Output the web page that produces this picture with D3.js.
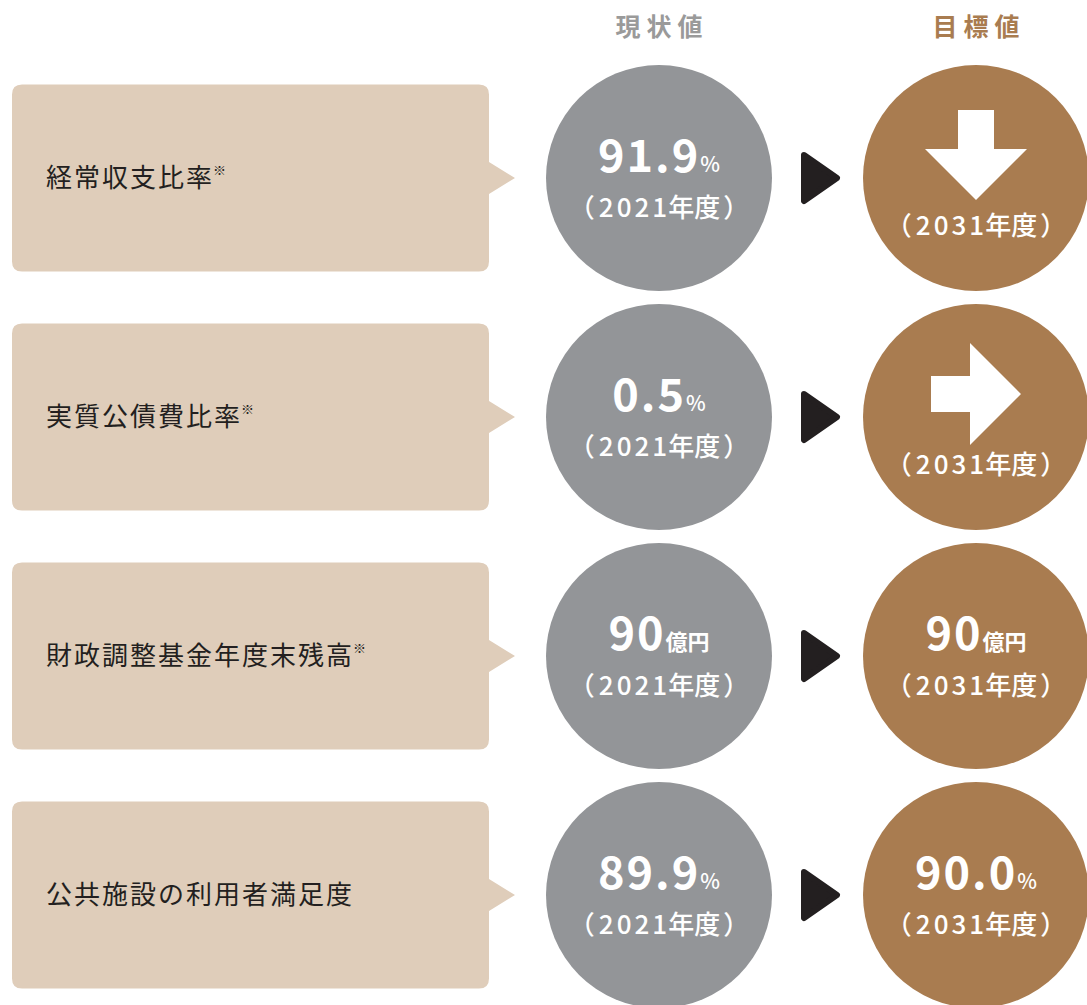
<!DOCTYPE html>
<html>
<head>
<meta charset="utf-8">
<script src="https://cdn.jsdelivr.net/npm/d3@7"></script>
<style>
    body { margin: 0; background: #fff; }
    text { font-family: "Noto Sans CJK JP", "Noto Sans", sans-serif; }
</style>
</head>
<body>
<div id="chart"></div>
<script>
// indicator names (left boxes)
var labels = ["経常収支比率", "実質公債費比率", "財政調整基金年度末残高", "公共施設の利用者満足度"];
var hasNote = [true, true, true, false];

// current values (2021)
var currentValues = ["91.9", "0.5", "90", "89.9"];
var currentUnits = ["%", "%", "億円", "%"];
var currentYear = "（2021年度）";

// target values (2031) - arrows where no number is given
var targetValues = [null, null, "90", "90.0"];
var targetUnits = ["", "", "億円", "%"];
var targetArrows = ["down", "right", null, null];
var targetYear = "（2031年度）";

var headers = ["現状値", "目標値"];

var colors = {
    box: "#dfcdba",
    grey: "#939598",
    brown: "#a97c50",
    dark: "#231f20",
    header: "#9a9a9a"
};

var width = 1087, height = 1005;

var svg = d3.select("#chart").append("svg")
    .attr("width", width)
    .attr("height", height);

// rows and columns
var y = d3.scalePoint()
    .domain(d3.range(labels.length))
    .range([178, 895]);

var x = d3.scaleOrdinal()
    .domain(["box", "current", "arrow", "target"])
    .range([12, 659, 820, 976]);

var boxW = 477, boxH = 187, r = 113;

// column headers
svg.selectAll(".header")
    .data(headers)
    .enter()
    .append("text")
    .attr("class", "header")
    .attr("x", function(d, i) { return (i === 0 ? x("current") : x("target")) + 3; })
    .attr("y", 36)
    .attr("text-anchor", "middle")
    .attr("font-size", 25)
    .attr("font-weight", 700)
    .attr("letter-spacing", 6)
    .attr("fill", function(d, i) { return i === 0 ? colors.header : colors.brown; })
    .text(function(d) { return d; });

var rows = svg.selectAll(".row")
    .data(labels)
    .enter()
    .append("g")
    .attr("class", "row")
    .attr("transform", function(d, i) { return "translate(0," + y(i) + ")"; });

// speech-bubble box
rows.append("path")
    .attr("fill", colors.box)
    .attr("d", function() {
        var x0 = x("box"), x1 = x0 + boxW, t = -boxH / 2, b = boxH / 2, c = 10;
        return "M" + (x0 + c) + "," + t +
            "H" + (x1 - c) + "Q" + x1 + "," + t + " " + x1 + "," + (t + c) +
            "V-16L515,0L" + x1 + ",16" +
            "V" + (b - c) + "Q" + x1 + "," + b + " " + (x1 - c) + "," + b +
            "H" + (x0 + c) + "Q" + x0 + "," + b + " " + x0 + "," + (b - c) +
            "V" + (t + c) + "Q" + x0 + "," + t + " " + (x0 + c) + "," + t + "Z";
    });

var lbl = rows.append("text")
    .attr("x", 46)
    .attr("y", 9)
    .attr("font-size", 26)
    .attr("fill", colors.dark);
lbl.append("tspan")
    .attr("letter-spacing", 2)
    .text(function(d) { return d; });
lbl.append("tspan")
    .attr("font-size", 13)
    .attr("dy", -12)
    .attr("dx", -1)
    .text(function(d, i) { return hasNote[i] ? "※" : ""; });

// circles
rows.append("circle")
    .attr("cx", x("current"))
    .attr("r", r)
    .attr("fill", colors.grey);

rows.append("circle")
    .attr("cx", x("target"))
    .attr("r", r)
    .attr("fill", colors.brown);

// black play triangle
rows.append("path")
    .attr("d", "M" + (x("arrow") - 16) + ",-23L" + (x("arrow") + 17) + ",0L" + (x("arrow") - 16) + ",23Z")
    .attr("fill", colors.dark)
    .attr("stroke", colors.dark)
    .attr("stroke-width", 6)
    .attr("stroke-linejoin", "round");

function valueText(sel, cx, values, units) {
    var t = sel.append("text")
        .attr("x", cx)
        .attr("y", -6)
        .attr("text-anchor", "middle")
        .attr("fill", "#fff")
        .attr("font-weight", 700);
    t.append("tspan")
        .attr("font-size", 45)
        .attr("letter-spacing", 2)
        .text(function(d, i) { return values[i]; });
    t.append("tspan")
        .attr("font-size", function(d, i) { return units[i] === "%" ? 21 : 22; })
        .attr("font-weight", function(d, i) { return units[i] === "%" ? 500 : 700; })
        .text(function(d, i) { return units[i]; });
}

// year line: brackets, wider-set digits, then the kanji
function yearText(sel, cx, yPos, str) {
    var inner = str.slice(1, -1).match(/^(\d+)(.*)$/);
    var t = sel.append("text")
        .attr("x", cx)
        .attr("y", yPos)
        .attr("text-anchor", "middle")
        .attr("font-size", 26)
        .attr("font-weight", 500)
        .attr("fill", "#fff");
    t.append("tspan").text(str.slice(0, 1));
    t.append("tspan").attr("dx", 4).attr("letter-spacing", 3).text(inner[1]);
    t.append("tspan").attr("dx", -2).text(inner[2]);
    t.append("tspan").attr("dx", 3).text(str.slice(-1));
}

// current
valueText(rows, x("current"), currentValues, currentUnits);
yearText(rows, x("current"), 39, currentYear);

// target
var withValue = rows.filter(function(d, i) { return targetValues[i] !== null; });
valueText(withValue, x("target"), targetValues.filter(function(v) { return v !== null; }),
    targetUnits.filter(function(u, i) { return targetValues[i] !== null; }));

yearText(withValue, x("target"), 39, targetYear);
yearText(rows.filter(function(d, i) { return targetValues[i] === null; }), x("target"), 57, targetYear);

// block arrow, drawn pointing down and rotated for "right"
var arrowPath = "M-18,-45H18V-6H51L0,45L-51,-6H-18Z";
rows.filter(function(d, i) { return targetArrows[i] !== null; })
    .append("path")
    .attr("d", arrowPath)
    .attr("fill", "#fff")
    .attr("transform", function(d) {
        var i = labels.indexOf(d);
        return "translate(" + x("target") + ",-23)" + (targetArrows[i] === "right" ? " rotate(-90)" : "");
    });
</script>
</body>
</html>
